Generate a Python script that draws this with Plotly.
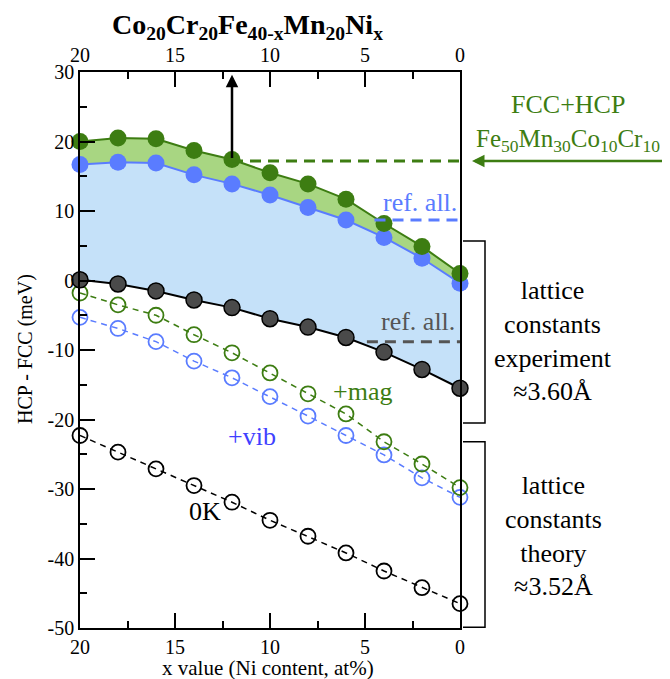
import plotly.graph_objects as go

# ---------------- data ----------------
x_ni = [20, 18, 16, 14, 12, 10, 8, 6, 4, 2, 0]

hcp_fcc_total = [20.0, 20.5, 20.4, 18.7, 17.4, 15.5, 13.9, 11.7, 8.2, 4.9, 1.0]      # green filled
hcp_fcc_vibexp = [16.7, 17.0, 16.9, 15.2, 13.9, 12.3, 10.5, 8.7, 6.2, 3.2, -0.4]     # blue filled
hcp_fcc_expbase = [0.1, -0.5, -1.5, -2.8, -3.9, -5.5, -6.7, -8.2, -10.3, -12.8, -15.5]  # black filled

mag_theory = [-1.8, -3.5, -5.0, -7.8, -10.4, -13.3, -16.3, -19.2, -23.2, -26.4, -29.8]   # green open
vib_theory = [-5.3, -6.9, -8.8, -11.6, -14.0, -16.7, -19.5, -22.3, -25.1, -28.4, -31.2]  # blue open
zeroK_theory = [-22.3, -24.7, -27.1, -29.5, -31.9, -34.5, -36.8, -39.2, -41.8, -44.2, -46.5]  # black open

fcc_hcp_ref_x = [12, 0]
fcc_hcp_ref_y = 17.2
ref_blue_x = [4.5, 0]
ref_blue_y = 8.7
ref_gray_x = [4.9, 0]
ref_gray_y = -8.8

x_ticks = [20, 15, 10, 5, 0]
y_ticks = [30, 20, 10, 0, -10, -20, -30, -40, -50]
y_tick_text = ["30", "20", "10", "0", "-10", "-20", "-30", "-40", "-50"]

# ---------------- styles ----------------
FONT = "Liberation Serif"
GREEN = "#3d7d12"
GREEN_FILL = "#a8d682"
BLUE = "#5a7cff"
BLUE_FILL = "#c5e1f9"
GRAY = "#4a4a4a"

fig = go.Figure()

# open-circle (theory) series
fig.add_trace(go.Scatter(x=x_ni, y=zeroK_theory, mode="lines+markers", cliponaxis=False,
                         line=dict(color="black", width=1.5, dash="6px,5px"),
                         marker=dict(symbol="circle-open", size=15, line=dict(width=1.8, color="black"))))
fig.add_trace(go.Scatter(x=x_ni, y=vib_theory, mode="lines+markers", cliponaxis=False,
                         line=dict(color=BLUE, width=1.5, dash="6px,5px"),
                         marker=dict(symbol="circle-open", size=15, line=dict(width=1.8, color=BLUE))))
fig.add_trace(go.Scatter(x=x_ni, y=mag_theory, mode="lines+markers", cliponaxis=False,
                         line=dict(color=GREEN, width=1.5, dash="6px,5px"),
                         marker=dict(symbol="circle-open", size=15, line=dict(width=1.8, color=GREEN))))

# filled (experiment lattice constant) series with shaded bands
fig.add_trace(go.Scatter(x=x_ni, y=hcp_fcc_expbase, mode="lines+markers", cliponaxis=False,
                         line=dict(color="black", width=2),
                         marker=dict(size=16, color=GRAY, line=dict(width=1.5, color="black"))))
fig.add_trace(go.Scatter(x=x_ni, y=hcp_fcc_vibexp, mode="lines+markers", fill="tonexty",
                         fillcolor=BLUE_FILL, cliponaxis=False,
                         line=dict(color=BLUE, width=2),
                         marker=dict(size=17, color=BLUE, line=dict(width=0))))
fig.add_trace(go.Scatter(x=x_ni, y=hcp_fcc_total, mode="lines+markers", fill="tonexty",
                         fillcolor=GREEN_FILL, cliponaxis=False,
                         line=dict(color=GREEN, width=2),
                         marker=dict(size=17, color=GREEN, line=dict(width=0))))

# reference lines
fig.add_trace(go.Scatter(x=fcc_hcp_ref_x, y=[fcc_hcp_ref_y] * 2, mode="lines",
                         line=dict(color=GREEN, width=3, dash="11px,7px")))
fig.add_trace(go.Scatter(x=ref_blue_x, y=[ref_blue_y] * 2, mode="lines",
                         line=dict(color=BLUE, width=3, dash="11px,7px")))
fig.add_trace(go.Scatter(x=ref_gray_x, y=[ref_gray_y] * 2, mode="lines",
                         line=dict(color="#555555", width=3, dash="11px,7px")))

# dummy trace for top axis
fig.add_trace(go.Scatter(x=x_ni, y=[None] * len(x_ni), xaxis="x2", mode="markers",
                         hoverinfo="skip"))

axis_common = dict(showline=True, linecolor="black", linewidth=1.5, ticks="inside",
                   tickcolor="black", tickwidth=1.5, ticklen=15, showgrid=False, zeroline=False,
                   tickfont=dict(family=FONT, size=20, color="black"))

# page has an 8px body margin; plot area targets page px x 80..460, y 72..628
fig.update_layout(
    width=662, height=671,
    margin=dict(l=72, r=210, t=64, b=51),
    paper_bgcolor="white", plot_bgcolor="white",
    showlegend=False,
    xaxis=dict(range=[20, 0], tickvals=x_ticks, mirror=True,
               minor=dict(dtick=2.5, ticklen=7, tickwidth=1.5, tickcolor="black", ticks="inside"),
               **axis_common),
    xaxis2=dict(range=[20, 0], tickvals=x_ticks, overlaying="x", side="top", anchor="y",
                minor=dict(dtick=2.5, ticklen=7, tickwidth=1.5, tickcolor="black", ticks="inside"),
                **axis_common),
    yaxis=dict(range=[-50, 30], tickvals=y_ticks, ticktext=y_tick_text, mirror=True,
               minor=dict(dtick=5, ticklen=7, tickwidth=1.5, tickcolor="black", ticks="inside"),
               **axis_common),
)

# plot area: 380 px wide, 556 px high
def px_x(p):  # page pixel -> paper x
    return (p - 80) / 380.0

def px_y(p):  # page pixel -> paper y
    return (628 - p) / 556.0

C = dict(xanchor="center", yanchor="middle", showarrow=False)
ann = []
# title
ann.append(dict(text="<b>Co<sub>20</sub>Cr<sub>20</sub>Fe<sub>40-x</sub>Mn<sub>20</sub>Ni<sub>x</sub></b>",
                xref="paper", yref="paper", x=px_x(247), y=px_y(26),
                font=dict(family=FONT, size=28, color="black"), **C))
# axis titles
ann.append(dict(text="HCP - FCC (meV)", xref="paper", yref="paper", x=px_x(25), y=px_y(349),
                textangle=-90, font=dict(family=FONT, size=20, color="black"), **C))
ann.append(dict(text="x value (Ni content, at%)", xref="paper", yref="paper", x=px_x(268), y=px_y(668),
                font=dict(family=FONT, size=21, color="black"), **C))
# vertical arrow
ann.append(dict(x=12, y=29.6, ax=12, ay=17.4, xref="x", yref="y", axref="x", ayref="y",
                showarrow=True, arrowhead=2, arrowsize=1, arrowwidth=2.5, arrowcolor="black", text=""))
# horizontal green arrow (pointing left, from the right edge)
ann.append(dict(x=px_x(472), y=fcc_hcp_ref_y, xref="paper", yref="y", ax=198, ay=0,
                showarrow=True, arrowhead=2, arrowsize=1, arrowwidth=2.5, arrowcolor=GREEN, text=""))
ann.append(dict(text="FCC+HCP", xref="paper", yref="paper", x=px_x(568), y=px_y(105),
                font=dict(family=FONT, size=26, color=GREEN), **C))
ann.append(dict(text="Fe<sub>50</sub>Mn<sub>30</sub>Co<sub>10</sub>Cr<sub>10</sub>", xref="paper",
                yref="paper", x=px_x(568), y=px_y(140), font=dict(family=FONT, size=25, color=GREEN), **C))
# labels
ann.append(dict(text="ref. all.", x=2.1, y=11.2, xref="x", yref="y",
                font=dict(family=FONT, size=26, color=BLUE), **C))
ann.append(dict(text="ref. all.", x=2.2, y=-5.9, xref="x", yref="y",
                font=dict(family=FONT, size=26, color="#555555"), **C))
ann.append(dict(text="+mag", x=5.15, y=-15.9, xref="x", yref="y",
                font=dict(family=FONT, size=26, color=GREEN), **C))
ann.append(dict(text="+vib", x=10.95, y=-22.5, xref="x", yref="y",
                font=dict(family=FONT, size=26, color="#4040ff"), **C))
ann.append(dict(text="0K", x=13.4, y=-33.3, xref="x", yref="y",
                font=dict(family=FONT, size=26, color="black"), **C))
# bracket texts
ann.append(dict(text="lattice<br>constants<br>experiment<br>≈3.60Å", xref="paper", yref="paper",
                x=px_x(553), y=px_y(341), font=dict(family=FONT, size=26, color="black"), **C))
ann.append(dict(text="lattice<br>constants<br>theory<br>≈3.52Å", xref="paper", yref="paper",
                x=px_x(553), y=px_y(536), font=dict(family=FONT, size=26, color="black"), **C))
fig.update_layout(annotations=ann)

# brackets
x0b, x1b = px_x(463), px_x(485)
for ytop, ybot in [(5.7, -20.5), (-23.2, -49.9)]:
    fig.add_shape(type="path", xref="paper", yref="y",
                  path=f"M {x0b},{ytop} L {x1b},{ytop} L {x1b},{ybot} L {x0b},{ybot}",
                  line=dict(color="black", width=1.5))

fig.write_html("out.html")
